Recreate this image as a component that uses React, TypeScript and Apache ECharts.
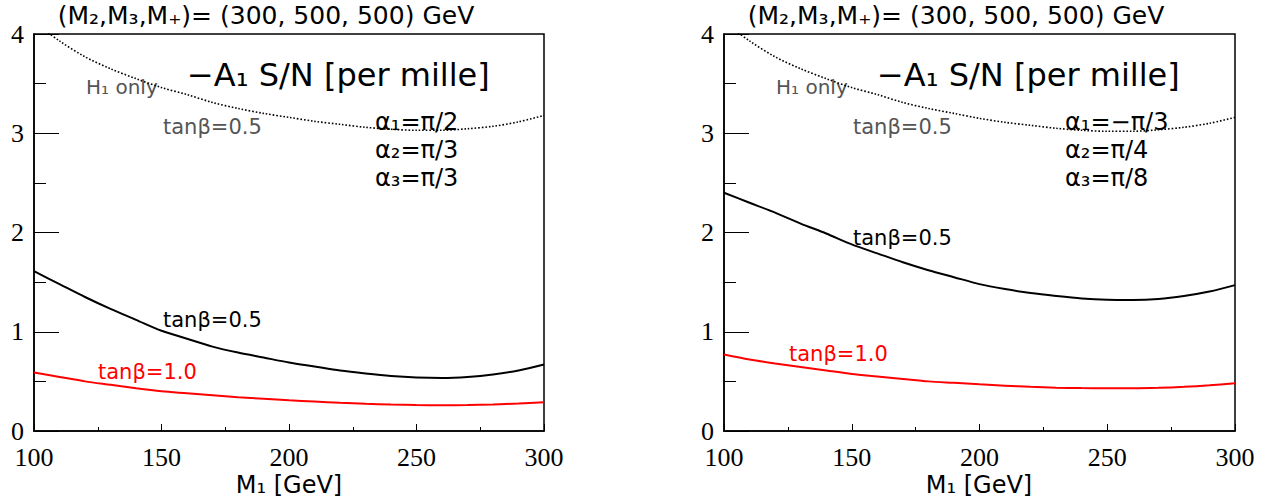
import React, { useEffect, useRef } from "react";
import * as echarts from "echarts";

// ---- data ----
const M1 = [100, 110, 120, 130, 140, 150, 160, 170, 180, 190, 200, 210, 220, 230, 240, 250, 260, 270, 280, 290, 300];
const xTicks = [100, 150, 200, 250, 300];
const yTicks = [0, 1, 2, 3, 4];

const leftH1only = [4.12, 3.93, 3.77, 3.65, 3.55, 3.46, 3.39, 3.31, 3.25, 3.2, 3.16, 3.12, 3.09, 3.06, 3.04, 3.03, 3.03, 3.045, 3.07, 3.115, 3.18];
const leftTanb05 = [1.61, 1.48, 1.35, 1.23, 1.12, 1.01, 0.93, 0.85, 0.79, 0.74, 0.69, 0.65, 0.61, 0.58, 0.555, 0.54, 0.535, 0.545, 0.57, 0.61, 0.67];
const leftTanb10 = [0.59, 0.545, 0.5, 0.465, 0.43, 0.4, 0.38, 0.36, 0.34, 0.325, 0.31, 0.297, 0.285, 0.275, 0.267, 0.262, 0.26, 0.262, 0.267, 0.277, 0.29];

const rightH1only = [4.12, 3.93, 3.77, 3.65, 3.55, 3.46, 3.39, 3.31, 3.25, 3.2, 3.15, 3.11, 3.08, 3.05, 3.03, 3.02, 3.02, 3.035, 3.06, 3.1, 3.16];
const rightTanb05 = [2.4, 2.3, 2.2, 2.09, 1.99, 1.88, 1.79, 1.7, 1.62, 1.55, 1.48, 1.43, 1.39, 1.36, 1.335, 1.322, 1.32, 1.33, 1.36, 1.405, 1.47];
const rightTanb10 = [0.77, 0.72, 0.68, 0.645, 0.61, 0.575, 0.55, 0.525, 0.5, 0.485, 0.47, 0.457, 0.445, 0.437, 0.432, 0.43, 0.43, 0.435, 0.445, 0.46, 0.48];

const titleText = "(M₂,M₃,M₊)= (300, 500, 500) GeV";
const quantityText = "−A₁ S/N [per mille]";
const h1Text = "H₁ only";
const tanb05Text = "tanβ=0.5";
const tanb10Text = "tanβ=1.0";
const xNameText = "M₁ [GeV]";
const leftAlphas = ["α₁=π/2", "α₂=π/3", "α₃=π/3"];
const rightAlphas = ["α₁=−π/3", "α₂=π/4", "α₃=π/8"];

const SANS = "'DejaVu Sans', sans-serif";
const SERIF = "'Liberation Serif', 'Times New Roman', serif";

function pairs(ys: number[]) {
  return M1.map((x, i) => [x, ys[i]]);
}

function makeAxes(gridIndex: number) {
  const x = {
    type: "value",
    gridIndex,
    min: xTicks[0],
    max: xTicks[xTicks.length - 1],
    interval: 50,
    axisLine: { show: true, onZero: false, lineStyle: { color: "#000", width: 1.5 } },
    axisTick: { show: true, inside: true, length: 7, lineStyle: { color: "#000", width: 1 } },
    minorTick: { show: true, splitNumber: 2, length: 4, lineStyle: { color: "#000", width: 1 } },
    splitLine: { show: false },
    minorSplitLine: { show: false },
    axisLabel: {
      show: true,
      color: "#000",
      fontFamily: SERIF,
      fontSize: 26,
      margin: 13,
      showMinLabel: true,
      showMaxLabel: true,
    },
  };
  const y = {
    type: "value",
    gridIndex,
    min: yTicks[0],
    max: yTicks[yTicks.length - 1],
    interval: 1,
    axisLine: { show: true, onZero: false, lineStyle: { color: "#000", width: 1.5 } },
    axisTick: { show: true, inside: true, length: 25, lineStyle: { color: "#000", width: 1 } },
    minorTick: { show: true, splitNumber: 2, length: 12, lineStyle: { color: "#000", width: 1 } },
    splitLine: { show: false },
    minorSplitLine: { show: false },
    axisLabel: {
      show: true,
      color: "#000",
      fontFamily: SERIF,
      fontSize: 26,
      margin: 10,
      showMinLabel: true,
      showMaxLabel: true,
    },
  };
  return { x, y };
}

function makeSeries(idx: number, h1: number[], t05: number[], t10: number[]) {
  const common = {
    type: "line",
    xAxisIndex: idx,
    yAxisIndex: idx,
    showSymbol: false,
    symbol: "none",
    smooth: 0.3,
    clip: true,
    silent: true,
  };
  return [
    { ...common, name: "H1 only", data: pairs(h1), lineStyle: { color: "#000", width: 1.6, type: [1.6, 1.9] } },
    { ...common, name: "tanb=0.5", data: pairs(t05), lineStyle: { color: "#000", width: 2 } },
    { ...common, name: "tanb=1.0", data: pairs(t10), lineStyle: { color: "#ff0000", width: 2 } },
  ];
}

function txt(text: string, x: number, y: number, size: number, fill = "#000", align = "left") {
  return {
    type: "text",
    x,
    y,
    silent: true,
    style: {
      text,
      fill,
      font: `${size}px ${SANS}`,
      align,
      verticalAlign: "middle",
    },
  };
}

function panelText(ox: number, alphas: string[], t05y: number, t10x: number, t10y: number, centerX: number) {
  return [
    txt(titleText, centerX, 15, 25, "#000", "center"),
    txt(quantityText, ox + 153, 75, 32),
    txt(h1Text, ox + 52, 87, 20, "#555"),
    txt(tanb05Text, ox + 129, 127, 21, "#555"),
    txt(alphas[0], ox + 341, 122, 24),
    txt(alphas[1], ox + 341, 150, 24),
    txt(alphas[2], ox + 341, 178, 24),
    txt(tanb05Text, ox + 129, t05y, 21),
    txt(tanb10Text, t10x, t10y, 21, "#ff0000"),
    txt(xNameText, centerX + 23, 485, 24, "#000", "center"),
  ];
}

export default function App() {
  const ref = useRef<HTMLDivElement>(null);

  useEffect(() => {
    document.body.style.margin = "0";
    if (!ref.current) return;
    const chart = echarts.init(ref.current, null, { renderer: "svg" });
    const a0 = makeAxes(0);
    const a1 = makeAxes(1);
    const option = {
      animation: false,
      backgroundColor: "#fff",
      grid: [
        { left: 34, top: 34, width: 510, height: 397, show: true, borderColor: "#000", borderWidth: 1.5, backgroundColor: "transparent", outerBoundsMode: "none" },
        { left: 724, top: 34, width: 511, height: 397, show: true, borderColor: "#000", borderWidth: 1.5, backgroundColor: "transparent", outerBoundsMode: "none" },
      ],
      xAxis: [a0.x, a1.x],
      yAxis: [a0.y, a1.y],
      series: [
        ...makeSeries(0, leftH1only, leftTanb05, leftTanb10),
        ...makeSeries(1, rightH1only, rightTanb05, rightTanb10),
      ],
      graphic: [
        ...panelText(34, leftAlphas, 320, 98, 372, 266),
        ...panelText(724, rightAlphas, 238, 789, 354, 956),
      ],
    };
    chart.setOption(option as any);
    return () => chart.dispose();
  }, []);

  return <div ref={ref} style={{ width: 1284, height: 500 }} />;
}
